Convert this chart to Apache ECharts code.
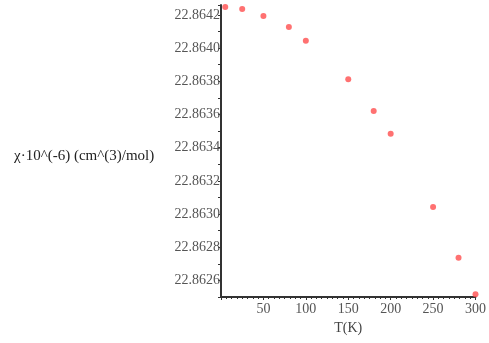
<!DOCTYPE html>
<html>
<head>
<meta charset="utf-8">
<script src="https://cdn.jsdelivr.net/npm/echarts@6/dist/echarts.min.js"></script>
<style>
  html, body { margin: 0; padding: 0; background: #fff; }
  #chart { width: 489px; height: 343px; }
</style>
</head>
<body>
<div id="chart"></div>
<script>
// temperature (K) and susceptibility values
const temps = [5, 25, 50, 80, 100, 150, 180, 200, 250, 280, 300];
const chi = [22.864248, 22.864236, 22.864194, 22.864128, 22.864045, 22.863812,
             22.863621, 22.863484, 22.863042, 22.862737, 22.862516];
const xTicks = [50, 100, 150, 200, 250, 300];
const yTicks = ['22.8626', '22.8628', '22.8630', '22.8632', '22.8634',
                '22.8636', '22.8638', '22.8640', '22.8642'];

const chart = echarts.init(document.getElementById('chart'));
const font = 'Liberation Serif';

const option = {
  animation: false,
  grid: { left: 221, right: 10, top: 5, bottom: 46 },
  xAxis: {
    type: 'value',
    min: 0,
    max: 300,
    interval: 50,
    name: 'T(K)',
    nameLocation: 'middle',
    nameGap: 24,
    nameTextStyle: { fontFamily: font, fontSize: 14, color: '#444' },
    axisLine: { lineStyle: { color: '#333', width: 2 } },
    axisTick: { length: 3, lineStyle: { color: '#333' } },
    minorTick: { show: true, splitNumber: 8, length: 2, lineStyle: { color: '#333' } },
    axisLabel: {
      fontFamily: font, fontSize: 14, color: '#555', margin: 5,
      formatter: v => xTicks.includes(v) ? String(v) : ''
    },
    splitLine: { show: false }
  },
  yAxis: {
    type: 'value',
    min: 22.8625,
    max: 22.86426,
    interval: 0.0001,
    axisLine: { lineStyle: { color: '#333', width: 2 } },
    axisTick: { length: 3, lineStyle: { color: '#333' } },
    axisLabel: {
      fontFamily: font, fontSize: 14, color: '#555', margin: 1,
      formatter: v => {
        const s = v.toFixed(4);
        return yTicks.includes(s) ? s : '';
      }
    },
    splitLine: { show: false }
  },
  graphic: [{
    type: 'text',
    left: 14,
    top: 149,
    z: -1,
    style: {
      text: 'χ·10^(-6) (cm^(3)/mol)',
      font: '15px "Liberation Serif"',
      fill: '#222'
    }
  }],
  series: [{
    type: 'scatter',
    data: temps.map((t, i) => [t, chi[i]]),
    symbol: 'circle',
    symbolSize: 6,
    itemStyle: { color: '#ff4d4d' }
  }]
};

chart.setOption(option);
</script>
</body>
</html>
